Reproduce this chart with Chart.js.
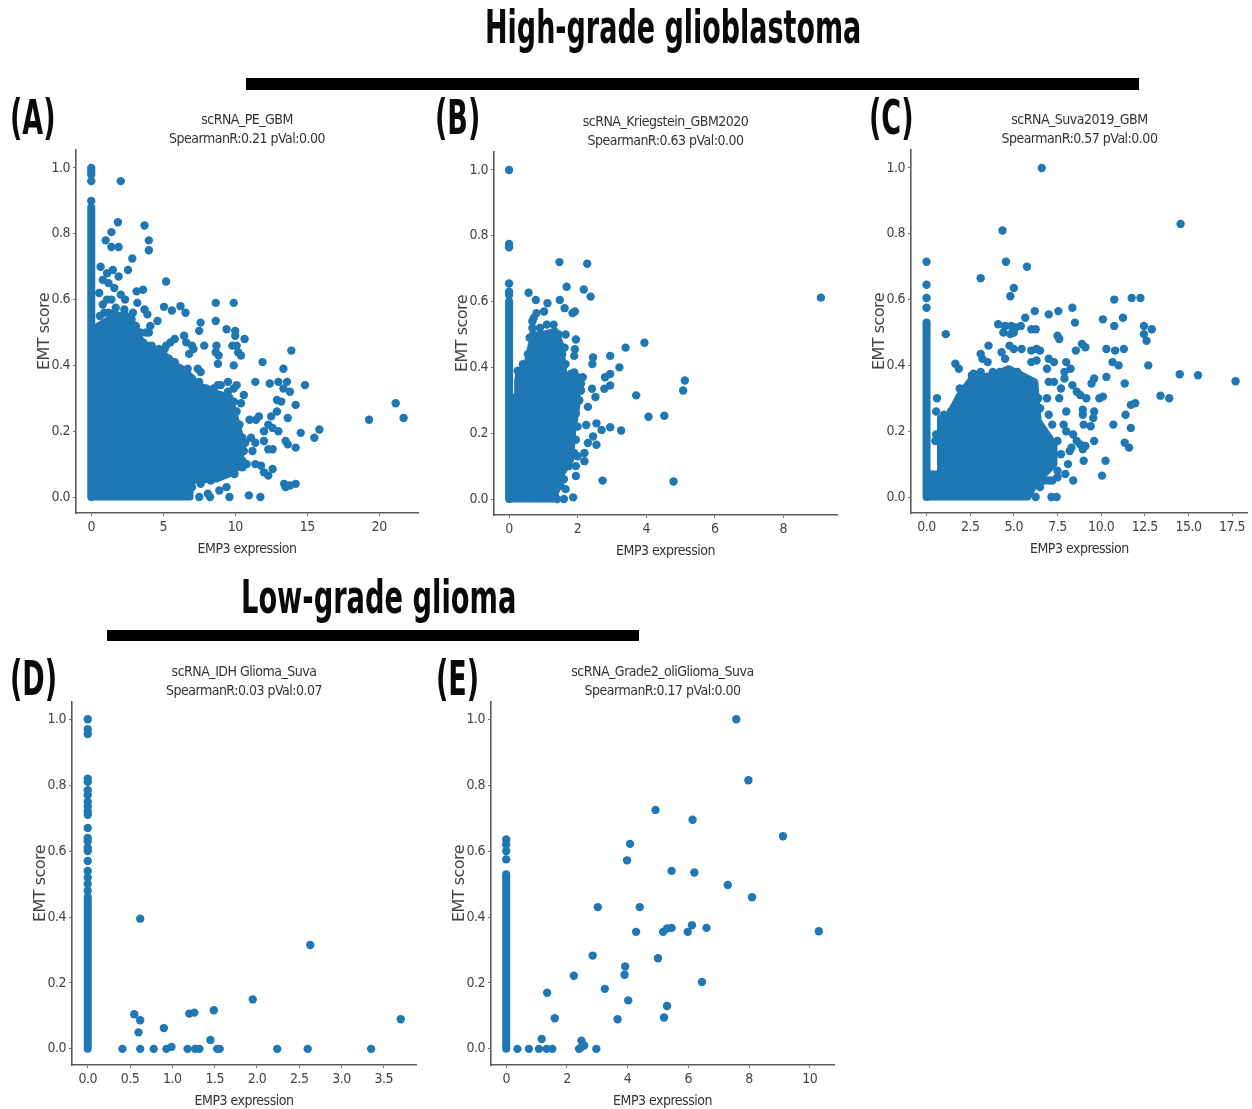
<!DOCTYPE html>
<html>
<head>
<meta charset="utf-8">
<script src="https://cdn.jsdelivr.net/npm/chart.js@4"></script>
<style>
html,body{margin:0;padding:0;background:#fff;width:1252px;height:1109px;overflow:hidden}
#page{position:relative;width:1252px;height:1109px;filter:blur(0.45px)}
canvas{position:absolute}
.t{position:absolute;white-space:nowrap;font-family:"DejaVu Sans Condensed",sans-serif;font-weight:700;color:#0a0a0a;line-height:1;transform-origin:0 0}
.bar{position:absolute;background:#000}
</style>
</head>
<body>
<div id="page">
<div class="t" style="left:485px;top:4px;font-size:46px;transform:scaleX(.652)">High-grade glioblastoma</div>
<div class="bar" style="left:246px;top:78px;width:893px;height:12px"></div>
<div class="t" style="left:241px;top:574px;font-size:46px;transform:scaleX(.659)">Low-grade glioma</div>
<div class="bar" style="left:107px;top:630px;width:532px;height:11px"></div>
<div class="t" style="left:10px;top:93px;font-size:48px;transform:scaleX(.625)">(A)</div>
<div class="t" style="left:435px;top:93px;font-size:48px;transform:scaleX(.625)">(B)</div>
<div class="t" style="left:869px;top:93px;font-size:48px;transform:scaleX(.625)">(C)</div>
<div class="t" style="left:10px;top:654px;font-size:48px;transform:scaleX(.625)">(D)</div>
<div class="t" style="left:436px;top:654px;font-size:48px;transform:scaleX(.625)">(E)</div>
</div>
<script>
// ---- Values ----
// Overplotted mass of each cloud cannot be read dot by dot, so it is given as its traced outline [x,y].
const yTicks = ['0.0','0.2','0.4','0.6','0.8','1.0'];
const xTicksA = ['0','5','10','15','20'];
const xTicksB = ['0','2','4','6','8'];
const xTicksC = ['0.0','2.5','5.0','7.5','10.0','12.5','15.0','17.5'];
const xTicksD = ['0.0','0.5','1.0','1.5','2.0','2.5','3.0','3.5'];
const xTicksE = ['0','2','4','6','8','10'];

// solid part of the column of cells at x = 0
const columnA = [[0,0],[0,.88]];
const columnB = [[0,0],[0,.6]];
const columnC = [[0,0],[0,.53]];
const columnD = [[0,0],[0,.46]];
const columnE = [[0,0],[0,.53]];

const stripA = [.9,.96,.98,.99,1];
const cloudA = [[0,0],[6.86,0],[6.86,.05],[8.7,.055],[9.87,.075],[10.38,.12],[10.38,.18],[9.87,.262],[9.64,.303],[8.48,.318],[7.32,.343],[6.63,.379],[5.93,.399],[5,.435],[4.31,.45],[3.62,.44],[3.38,.485],[2.92,.526],[2.46,.536],[1.53,.546],[1.07,.536],[.49,.52],[0,.505]];
const dotsA = [[2.05,.96],[1.85,.835],[3.7,.825],[1.4,.805],[1,.78],[1.4,.76],[1.9,.76],[4,.78],[4,.75],[2.85,.725],[2.55,.69],[.65,.7],[.8,.66],[1.1,.68],[1.5,.69],[1.9,.67],[1.2,.65],[1.6,.635],[.55,.62],[2.05,.615],[2.35,.6],[3.15,.625],[3.6,.63],[3.2,.59],[.8,.585],[1.1,.6],[1.4,.6],[1.7,.575],[2.3,.57],[2.9,.56],[3.7,.57],[3.9,.555],[5.2,.655],[5.05,.578],[5.6,.567],[6.2,.58],[6.55,.56],[8.65,.59],[9.9,.59],[8.65,.535],[7.6,.53],[7.5,.505],[4.6,.535],[4.1,.52],[4,.5],[3.8,.5],[9.4,.51],[10,.505],[10,.49],[10.65,.48],[6.45,.49],[6.6,.47],[7,.46],[7.1,.45],[6.8,.435],[7.85,.46],[8.7,.46],[8.65,.44],[8.85,.43],[9.8,.46],[10.1,.46],[10.2,.44],[10.4,.43],[5.2,.46],[5.5,.47],[5.8,.48],[8.8,.405],[9.9,.4],[11.9,.41],[13.9,.445],[13.35,.39],[7.4,.39],[7.6,.38],[5.9,.38],[6.5,.37],[11.4,.35],[12.4,.345],[13,.35],[13.35,.33],[13.6,.35],[13.8,.32],[14.85,.34],[8.8,.34],[9.5,.35],[10.1,.34],[9.9,.33],[10.6,.31],[10.4,.285],[14.2,.28],[12.9,.295],[13.2,.29],[12.9,.26],[13.65,.24],[11,.235],[11.45,.235],[11.65,.245],[12.5,.245],[12.3,.22],[12,.2],[12.6,.21],[13,.2],[14.55,.195],[15.5,.18],[15.85,.205],[19.3,.235],[21.15,.285],[21.7,.24],[13.5,.17],[13.65,.16],[14.2,.15],[12,.17],[12.3,.145],[12.6,.145],[11.1,.18],[11.4,.165],[10.7,.165],[11.2,.14],[11.4,.1],[11.8,.095],[12,.075],[12.3,.065],[12.6,.085],[10.5,.09],[10.8,.1],[13.4,.04],[13.5,.03],[13.8,.035],[14.2,.04],[7,.03],[7.5,0],[8.1,.01],[8.25,0],[8.9,.02],[9.4,.03],[9.6,0],[10.95,.005],[11.75,0],[9.2,.07],[9.95,.07],[8.5,.06],[8,.07],
[.6,.55],[.9,.56],[1.2,.56],[1.6,.56],[2,.55],[2.4,.55],[2.8,.54],[3.1,.52],[3.4,.5],[3.6,.47],[3.9,.46],[4.2,.46],[4.7,.45],[5.1,.45],[5.4,.42],[5.8,.41],[6.2,.39],[6.7,.39],[7,.36],[7.5,.35],[8,.33],[8.5,.33],[9,.34],[9.5,.32],[9.9,.29],[10.1,.26],[10.3,.22],[10.5,.18],[10.6,.14],[10.5,.11],[10.1,.09],[9.5,.08],[9,.065],[8.3,.05],[7.6,.04],[7,.05]];

const stripB = [.62,.63,.655,.765,.775,1];
const cloudB = [[0,0],[1.3,0],[1.55,.08],[1.8,.12],[1.85,.2],[2,.3],[1.95,.36],[1.6,.38],[1.5,.47],[1.35,.51],[1,.5],[.85,.5],[.65,.47],[.5,.4],[.3,.39],[.25,.36],[.25,.31],[0,.31]];
const dotsB = [[1.47,.72],[2.28,.715],[.57,.627],[.78,.605],[1.68,.645],[2.18,.637],[2.38,.615],[1.48,.605],[1.12,.595],[1.62,.58],[1.85,.565],[1.92,.57],[1.02,.57],[.8,.565],[.72,.55],[.68,.54],[.68,.52],[1.65,.5],[1.95,.485],[1.62,.46],[1.92,.455],[1.9,.435],[2.45,.43],[2.43,.41],[2.95,.435],[3.4,.46],[3.95,.475],[3.22,.4],[2.95,.38],[2.8,.37],[2.95,.345],[2.78,.335],[2.42,.335],[2.52,.31],[2.3,.28],[3.71,.315],[4.07,.25],[4.53,.253],[5.08,.33],[5.13,.36],[9.1,.612],[2.25,.225],[2.55,.23],[2.7,.21],[2.95,.218],[3.27,.208],[2.45,.19],[2.55,.165],[2.3,.17],[2.2,.115],[1.95,.07],[2.73,.056],[4.8,.053],[1.87,.005],[1.6,0],[1.4,0],[1.65,.03],[1.95,.1],[2.2,.14],[2,.13],[2.15,.37],[2.1,.33],[1.9,.385],
[.25,.39],[.4,.41],[.55,.44],[.6,.49],[.7,.5],[.9,.52],[1.1,.53],[1.3,.53],[1.45,.5],[1.55,.44],[1.65,.41],[1.8,.38],[2,.37],[2.1,.35],[2.05,.3],[1.95,.26],[2,.22],[1.95,.18],[1.9,.14],[1.75,.1],[1.6,.06],[1.5,.04],[1.2,.01]];

const stripC = [.575,.605,.645,.715];
const cloudC = [[0,0],[5.8,0],[6.2,.04],[7.3,.1],[7.3,.16],[6.4,.23],[6.2,.35],[4.7,.39],[3.8,.37],[2.6,.36],[1.9,.31],[1.3,.25],[.8,.24],[.8,.07],[0,.07]];
const dotsC = [[6.6,1],[14.55,.83],[4.35,.81],[4.55,.715],[5.75,.7],[3.1,.665],[5,.635],[4.8,.61],[6.2,.565],[7,.555],[7.55,.565],[8.35,.575],[8.5,.53],[5.65,.545],[5.4,.52],[5.1,.515],[4.85,.52],[4.5,.52],[4.1,.525],[4.4,.5],[4.8,.495],[5,.5],[6,.51],[6.25,.51],[7.5,.49],[7.6,.48],[1.1,.495],[3.55,.46],[4.75,.46],[5,.45],[5.45,.45],[6,.445],[6.3,.45],[6.5,.445],[8.55,.445],[8.9,.465],[9.1,.455],[4.3,.44],[4.5,.42],[3.1,.435],[3.2,.42],[3.5,.41],[6,.41],[6.3,.415],[6.9,.39],[7.3,.41],[7,.42],[8,.41],[7.9,.38],[8.25,.39],[1.65,.405],[1.85,.39],[2.7,.375],[3.1,.38],[10.1,.54],[10.75,.6],[11.75,.605],[12.25,.605],[11.25,.545],[10.75,.52],[12.45,.52],[12.9,.51],[12.45,.495],[12.6,.475],[10.3,.45],[10.8,.445],[11.3,.45],[10.65,.41],[11,.4],[12.7,.4],[10.3,.365],[11.35,.345],[14.5,.373],[15.55,.37],[17.7,.352],[13.4,.308],[13.9,.3],[9.6,.36],[9.45,.345],[8.35,.34],[8.6,.32],[8.8,.31],[9.15,.3],[9.9,.3],[10.1,.305],[8.95,.265],[8.95,.25],[9.6,.26],[9.55,.24],[9,.22],[9.4,.215],[10.7,.22],[11.4,.25],[11.7,.28],[11.95,.285],[11.7,.21],[11.35,.165],[11.6,.15],[9.6,.17],[8.95,.145],[9.1,.155],[9,.11],[10.25,.11],[10.05,.065],[8.4,.19],[8.6,.17],[8.8,.16],[8.4,.05],[7.95,.07],[8.1,.1],[8.2,.14],[8.3,.15],[7.15,0],[7.45,0],[6.25,0],[6.5,.03],[6.75,.05],[7.2,.05],[7.5,.06],[7.2,.1],[8,.2],[7.85,.22],[8,.26],[7.6,.3],[7.3,.35],[7.7,.33],[7,.35],[6.9,.3],[7.9,.36],[.6,.3],[.55,.26],[.55,.19],[.5,.17],
[1,.2],[1,.25],[1.4,.26],[1.8,.28],[1.9,.33],[2.2,.33],[2.6,.37],[2.9,.35],[3.3,.36],[3.8,.38],[4.2,.38],[4.4,.37],[5.2,.38],[5.6,.36],[6.1,.33],[6.4,.3],[6.5,.27],[6.6,.2],[7,.18],[7.2,.22],[7,.25],[7.5,.17],[7.7,.13],[7.5,.08],[7,.05],[6.6,.08],[5.9,.02]];

const stripD = [.48,.5,.52,.54,.57,.6,.61,.63,.64,.67,.71,.72,.735,.75,.77,.785,.81,.82,.955,.97,1];
const dotsD = [[.62,.395],[2.63,.315],[.55,.105],[.62,.087],[.6,.05],[.9,.063],[1.2,.107],[1.26,.11],[1.49,.117],[1.95,.15],[3.7,.09],[1.45,.027],[.41,0],[.62,0],[.78,0],[.93,0],[.99,.006],[1.18,0],[1.27,0],[1.32,0],[1.53,0],[1.56,0],[2.24,0],[2.6,0],[3.35,0]];

const stripE = [.575,.6,.62,.635];
const dotsE = [[7.58,1],[7.98,.815],[4.92,.725],[6.14,.695],[9.12,.645],[4.08,.622],[3.98,.572],[5.45,.54],[6.2,.535],[7.3,.497],[8.1,.46],[3.02,.43],[4.4,.43],[4.28,.355],[5.17,.355],[5.3,.365],[5.45,.367],[5.98,.355],[6.12,.375],[6.6,.367],[10.3,.357],[2.85,.283],[5,.275],[3.92,.25],[3.9,.225],[2.23,.222],[6.45,.203],[3.25,.182],[1.35,.17],[4.02,.147],[5.3,.13],[1.6,.093],[3.67,.09],[5.2,.095],[1.17,.03],[2.48,.025],[.37,0],[.75,0],[1.08,0],[1.33,0],[1.52,0],[2.4,0],[2.45,.003],[2.57,.01],[2.97,0]];

const titleA = ['scRNA_PE_GBM','SpearmanR:0.21 pVal:0.00'];
const titleB = ['scRNA_Kriegstein_GBM2020','SpearmanR:0.63 pVal:0.00'];
const titleC = ['scRNA_Suva2019_GBM','SpearmanR:0.57 pVal:0.00'];
const titleD = ['scRNA_IDH Glioma_Suva','SpearmanR:0.03 pVal:0.07'];
const titleE = ['scRNA_Grade2_oliGlioma_Suva','SpearmanR:0.17 pVal:0.00'];
const xLabel = 'EMP3 expression';
const yLabel = 'EMT score';

// ---- Layout ----
const BLUE = '#1f77b4';
const NARROW = '"DejaVu Sans Condensed",sans-serif';
const panels = [
  {box:[76,150,418,513],  xr:[-1.06,22.7], yr:[-.0486,1.0547],xt:xTicksA,column:columnA,strip:stripA,cloud:cloudA,dots:dotsA,title:titleA},
  {box:[494,152,837,515],xr:[-.44,9.57],yr:[-.0486,1.0547],xt:xTicksB,column:columnB,strip:stripB,cloud:cloudB,dots:dotsB,title:titleB},
  {box:[911,150,1252,513],xr:[-.89,18.4],yr:[-.0486,1.0547],xt:xTicksC,column:columnC,strip:stripC,cloud:cloudC,dots:dotsC,title:titleC},
  {box:[72,702,416,1065],xr:[-.186,3.88],yr:[-.049,1.0525],xt:xTicksD,column:columnD,strip:stripD,cloud:null,dots:dotsD,title:titleD},
  {box:[491,702,834,1065],xr:[-.5,10.8],yr:[-.049,1.0525],xt:xTicksE,column:columnE,strip:stripE,cloud:null,dots:dotsE,title:titleE}
];
const LEFT=45, TOP=45, BOTTOM=46;
const page = document.getElementById('page');
const squeeze = {id:'squeeze',beforeDraw(chart){chart.ctx.letterSpacing='-0.5px';}};

function pts(list){ return list.map(p=>({x:p[0],y:p[1]})); }
function axis(range, labels, text, isX){
  return {
    type:'linear', min:range[0], max:range[1],
    afterBuildTicks(s){ s.ticks = labels.map(l=>({value:parseFloat(l)})); },
    afterTickToLabelConversion(s){ s.ticks.forEach((t,i)=>{t.label=labels[i];}); },
    afterFit(s){ if(isX) s.height=BOTTOM; else s.width=LEFT; },
    border:{display:true,color:'#5a5a5a',width:1.6},
    grid:{drawOnChartArea:false,drawTicks:true,tickLength:3,color:'#777',lineWidth:1},
    ticks:{color:'#444',autoSkip:false,maxRotation:0,minRotation:0,padding:3,font:{family:NARROW,size:14,weight:'normal'}},
    title:{display:true,text:text,color:isX?'#333':'#444',
      font: isX?{family:NARROW,size:14,weight:'normal'}:{family:'"DejaVu Sans",sans-serif',size:16,weight:'normal'},
      padding:isX?{top:0,bottom:1}:{top:4,bottom:0}}
  };
}
panels.forEach(p=>{
  const [l,t,r,b]=p.box;
  const rightPad = r>=1250?0:6;
  const c=document.createElement('canvas');
  const W=Math.ceil(r-l+LEFT+rightPad), H=Math.ceil(b-t+TOP+BOTTOM);
  c.width=W;c.height=H;
  c.style.left=(l-LEFT)+'px';c.style.top=(t-TOP)+'px';
  c.style.width=W+'px';c.style.height=H+'px';
  page.appendChild(c);
  const datasets=[];
  if(p.cloud) datasets.push({label:'dense mass',data:pts(p.cloud),showLine:true,tension:0,fill:'shape',
    backgroundColor:BLUE,borderColor:BLUE,borderWidth:7,borderJoinStyle:'round',pointRadius:0});
  datasets.push({label:'x = 0 column',data:pts(p.column),showLine:true,tension:0,borderColor:BLUE,borderWidth:8,borderCapStyle:'round',pointRadius:0});
  datasets.push({label:'x = 0',data:p.strip.map(v=>({x:0,y:v})),showLine:false,backgroundColor:BLUE,borderColor:BLUE,pointRadius:4.2,pointBorderWidth:0});
  datasets.push({label:'cells',data:pts(p.dots),showLine:false,backgroundColor:BLUE,borderColor:BLUE,pointRadius:4.2,pointBorderWidth:0});
  new Chart(c.getContext('2d'),{
    type:'scatter',
    data:{datasets},
    plugins:[squeeze],
    options:{
      responsive:false,animation:false,devicePixelRatio:1,
      layout:{padding:{left:0,right:rightPad,top:0,bottom:0}},
      plugins:{
        legend:{display:false},tooltip:{enabled:false},
        title:{display:true,text:p.title,color:'#333',fullSize:false,
          font:{family:NARROW,size:14,lineHeight:1.36,weight:'normal'},padding:{top:6,bottom:.9}}
      },
      scales:{x:axis(p.xr,p.xt,xLabel,true),y:axis(p.yr,yTicks,yLabel,false)}
    }
  });
});
</script>
</body>
</html>
